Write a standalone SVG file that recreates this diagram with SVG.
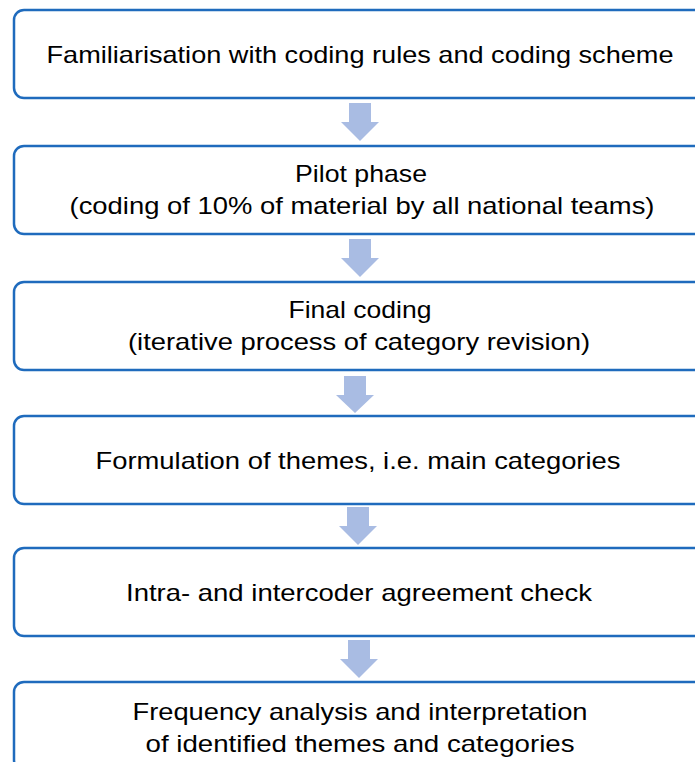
<svg xmlns="http://www.w3.org/2000/svg" width="695" height="762" viewBox="0 0 695 762">
<defs>
<style>
.box{fill:#ffffff;stroke:#1f6bbd;stroke-width:2.5}
.t{font-family:"Liberation Sans",Arial,sans-serif;font-size:24px;fill:#000000;text-anchor:middle}
.arr{fill:#a9bce3}
</style>
</defs>
<rect width="695" height="762" fill="#ffffff"/>
<g id="connectors">
<polygon class="arr" points="349,103 371,103 371,122 379,122 360,141 341,122 349,122"/>
<polygon class="arr" points="349,239 371,239 371,258 379,258 360,277 341,258 349,258"/>
<polygon class="arr" points="344,376 366,376 366,395 374,395 355,413 336,395 344,395"/>
<polygon class="arr" points="347,507 369,507 369,526 377,526 358,545 339,526 347,526"/>
<polygon class="arr" points="348,640 370,640 370,659 378,659 359,678 340,659 348,659"/>
</g>
<g id="n1">
<rect class="box" x="14" y="10" width="692" height="88" rx="10"/>
<text class="t" x="360" y="63" textLength="627" lengthAdjust="spacingAndGlyphs">Familiarisation with coding rules and coding scheme</text>
</g>
<g id="n2">
<rect class="box" x="14" y="146" width="692" height="88" rx="10"/>
<text class="t" x="361" y="182" textLength="132" lengthAdjust="spacingAndGlyphs">Pilot phase</text>
<text class="t" x="362" y="214" textLength="585" lengthAdjust="spacingAndGlyphs">(coding of 10% of material by all national teams)</text>
</g>
<g id="n3">
<rect class="box" x="14" y="282" width="692" height="88" rx="10"/>
<text class="t" x="360" y="318" textLength="143" lengthAdjust="spacingAndGlyphs">Final coding</text>
<text class="t" x="359" y="350" textLength="462" lengthAdjust="spacingAndGlyphs">(iterative process of category revision)</text>
</g>
<g id="n4">
<rect class="box" x="14" y="416" width="692" height="88" rx="10"/>
<text class="t" x="358" y="469" textLength="525" lengthAdjust="spacingAndGlyphs">Formulation of themes, i.e. main categories</text>
</g>
<g id="n5">
<rect class="box" x="14" y="548" width="692" height="88" rx="10"/>
<text class="t" x="359" y="601" textLength="466" lengthAdjust="spacingAndGlyphs">Intra- and intercoder agreement check</text>
</g>
<g id="n6">
<rect class="box" x="14" y="682" width="692" height="88" rx="10"/>
<text class="t" x="360" y="720" textLength="455" lengthAdjust="spacingAndGlyphs">Frequency analysis and interpretation</text>
<text class="t" x="360" y="752" textLength="429" lengthAdjust="spacingAndGlyphs">of identified themes and categories</text>
</g>
</svg>
